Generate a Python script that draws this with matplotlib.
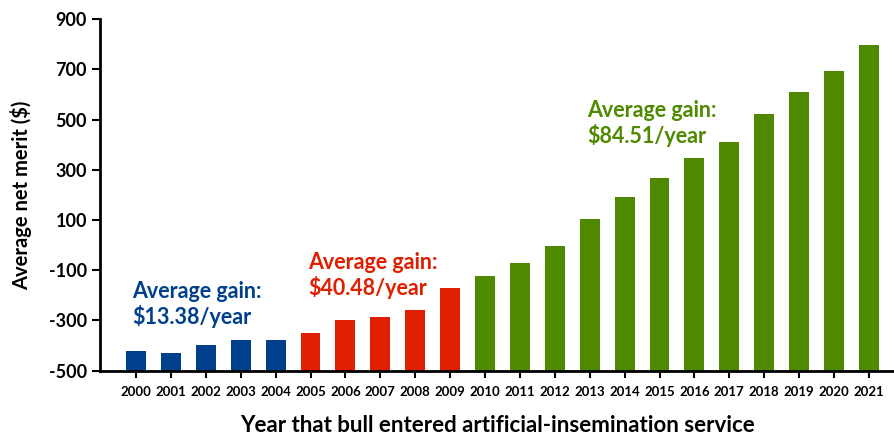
import matplotlib
matplotlib.use('Agg')
import matplotlib.pyplot as plt
import numpy as np

plt.rcParams['font.family'] = ['Lato', 'DejaVu Sans']
plt.rcParams['font.weight'] = 'bold'
plt.rcParams['axes.unicode_minus'] = False

years = [str(y) for y in range(2000, 2022)]
net_merit = [-420, -431, -398, -379, -378,
             -351, -298, -287, -258, -170,
             -122, -72, -4, 103, 190, 266, 347, 410, 524, 609, 694, 798]
groups = ['blue'] * 5 + ['red'] * 5 + ['green'] * 12

colours = {'blue': '#003F8C', 'red': '#DF1F00', 'green': '#4F8900'}
gain_labels = {'blue': 'Average gain:\n$13.38/year',
               'red': 'Average gain:\n$40.48/year',
               'green': 'Average gain:\n$84.51/year'}
label_pos = {'blue': (-0.1, -238), 'red': (4.93, -121), 'green': (12.92, 485)}

fig = plt.figure(figsize=(8.94, 4.34), dpi=100)
ax = fig.add_axes([0.112, 0.146, 0.888, 0.81])

x = np.arange(len(years))
bottom = -500
ax.bar(x, np.array(net_merit) - bottom, bottom=bottom, width=0.57,
       color=[colours[g] for g in groups])

for g, (lx, ly) in label_pos.items():
    ax.text(lx, ly, gain_labels[g], color=colours[g], fontsize=15.5,
            fontweight='bold', ha='left', va='center', linespacing=1.15)

ax.set_xlim(-1.03, 21.72)
ax.set_ylim(-500, 900)
ax.set_yticks(range(-500, 901, 200))
ax.set_xticks(x)
ax.set_xticklabels(years, fontsize=9.5, fontweight='bold')
ax.tick_params(axis='y', labelsize=13, width=1.5, length=6)
ax.tick_params(axis='x', width=1.5, length=5, pad=6)
for lab in ax.get_yticklabels():
    lab.set_fontweight('bold')

ax.spines['top'].set_visible(False)
ax.spines['right'].set_visible(False)
ax.spines['left'].set_linewidth(2)
ax.spines['bottom'].set_linewidth(2)

ax.set_ylabel('Average net merit ($)', fontsize=14.5, fontweight='bold', labelpad=12)
ax.set_xlabel('Year that bull entered artificial-insemination service',
              fontsize=16, fontweight='bold', labelpad=12)

fig.savefig('out.png', dpi=100)
